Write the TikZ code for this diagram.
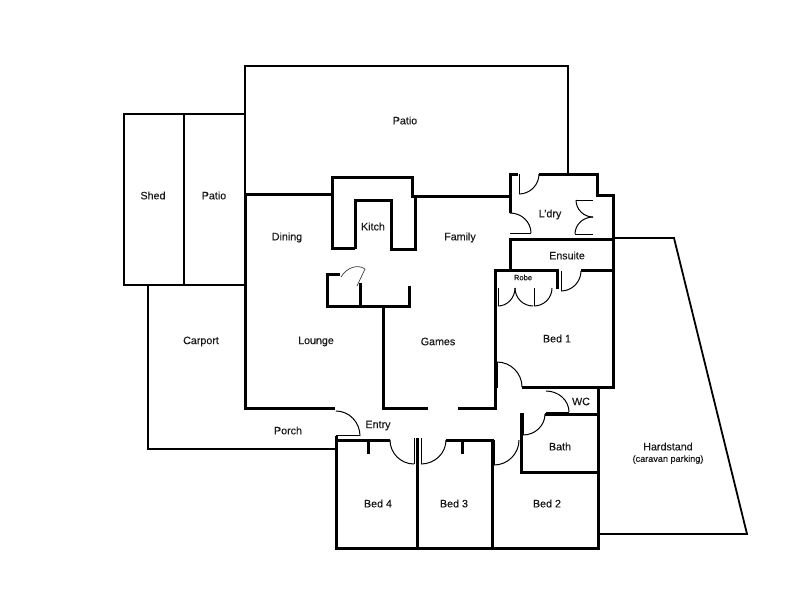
\documentclass[tikz,border=0pt]{standalone}
\usepackage{fontspec}
\setmainfont{Liberation Sans}
\newfontfamily\lblfont[FakeBold=0.3]{Liberation Sans}
\usetikzlibrary{calc}
\tikzset{
  wall/.style={line width=3pt,line cap=butt,line join=miter,black},
  partition/.style={line width=2.5pt,line join=miter,black},
  outline/.style={line width=1.8pt,line join=miter,black},
  door/.style={line width=1pt,black},
  faint/.style={line width=0.7pt,black!75},
  lbl/.style={font=\lblfont\fontsize{10.7}{12}\selectfont,inner sep=0pt,text=black!90,yshift=0.5pt},
  small/.style={font=\lblfont\fontsize{7.6}{9}\selectfont,inner sep=0pt,text=black!90,yshift=0.5pt},
  note/.style={font=\lblfont\fontsize{9.1}{10}\selectfont,inner sep=0pt,text=black!90,yshift=0.5pt}
}
\newcommand{\swing}[4][door]{\draw[#1] (#2) .. controls ($(#2)!0.55!(#3)$) and ($(#4)!0.55!(#3)$) .. (#4);}
\begin{document}
\begin{tikzpicture}[x=1pt,y=-1pt]
\useasboundingbox (0,0) rectangle (800,600);
\fill[white] (0,0) rectangle (800,600);
% outlines
\draw[outline] (245,194) -- (245,66) -- (568,66) -- (568,174);
\draw[outline] (245,114) -- (124,114) -- (124,285) -- (245,285);
\draw[outline] (148,285) -- (148,449) -- (336,449);
\draw[outline] (613,238) -- (674,238) -- (747,534) -- (598,534);
% walls
\draw[partition] (184,114) -- (184,285);
\draw[wall] (332,194) -- (245,194) -- (245,408) -- (335,408);
\draw[wall] (355,248) -- (332,248) -- (332,177) -- (412,177) -- (412,196) -- (510,196);
\draw[wall] (415,196) -- (415,249) -- (391,249) -- (391,200) -- (355,200) -- (355,249);
\draw[wall] (340,274) -- (327,274) -- (327,306) -- (409,306) -- (409,286);
\draw[wall] (360,283) -- (360,306);
\draw[wall] (383,306) -- (383,408) -- (428,408);
\draw[wall] (458,408) -- (495,408) -- (495,270) -- (557,270) -- (557,289);
\draw[wall] (518,174) -- (510,174) -- (510,213);
\draw[wall] (539,174) -- (597,174) -- (597,195) -- (613,195) -- (613,387) -- (522,387);
\draw[wall] (510,271) -- (510,239) -- (613,239);
\draw[wall] (581,270) -- (613,270);
\draw[wall] (598,387) -- (598,548) -- (336,548) -- (336,436);
\draw[wall] (545,414) -- (598,414);
\draw[wall] (521,413) -- (521,472) -- (598,472);
\draw[wall] (336,440) -- (390,440);
\draw[wall] (368,440) -- (368,454);
\draw[wall] (417,438) -- (417,548);
\draw[wall] (446,440) -- (492,440) -- (492,548);
\draw[wall] (462,440) -- (462,454);
% doors
\draw[door] (519,174) -- (519,194); \swing{519,194}{539,194}{539,174}
\swing{510,213}{531,213}{531,233} \draw[door] (510,233) -- (531,233);
\draw[door] (593,200) -- (576,200); \swing{576,200}{576,217}{593,217}
\draw[door] (593,234) -- (575,234); \swing{575,234}{575,217}{593,217}
\draw[door] (561,271) -- (561,291); \swing{561,291}{581,291}{581,271}
\draw[door] (498,288) -- (498,306); \swing{498,306}{515,306}{515,288}
\swing{515,288}{515,306}{533,306}
\draw[door] (534,288) -- (534,306); \swing{534,306}{552,306}{552,288}
\draw[door] (497,362) -- (497,388); \swing{497,362}{522,362}{522,387}
\swing{546,391}{569,391}{569,412} \draw[door] (546,412) -- (569,412);
\draw[door] (523,413) -- (523,435); \swing{523,435}{545,435}{545,414}
\draw[door] (494,440) -- (494,465); \swing{494,465}{519,465}{519,440}
\swing{390,440}{390,464}{414,464} \draw[door] (414,438) -- (414,464);
\swing{446,440}{446,464}{421,464} \draw[door] (421,438) -- (421,464);
\swing{336,411}{360,411}{360,436} \draw[door] (336,435) -- (360,435);
\draw[faint] (341,277) .. controls (347,267) and (358,264) .. (365,269) -- (357,286);
% labels
\node[lbl] (shed) at (153,196) {Shed};
\node[lbl] (patioa) at (214,196) {Patio};
\node[lbl] (patiob) at (405,121) {Patio};
\node[lbl] (dining) at (287,238) {Dining};
\node[lbl] (kitch) at (373,227) {Kitch};
\node[lbl] (family) at (460,238) {Family};
\node[lbl] (ldry) at (550,215) {L’dry};
\node[lbl] (ensuite) at (567,256) {Ensuite};
\node[small] (robe) at (523,278) {Robe};
\node[lbl] (lounge) at (316,342) {Lounge};
\node[lbl] (games) at (438,342) {Games};
\node[lbl] (bed1) at (557,339) {Bed 1};
\node[lbl] (carport) at (201,342) {Carport};
\node[lbl] (porch) at (288,431) {Porch};
\node[lbl] (entry) at (378,426) {Entry};
\node[lbl] (wc) at (581,402) {WC};
\node[lbl] (bath) at (560,447) {Bath};
\node[lbl] (bed4) at (378,504) {Bed 4};
\node[lbl] (bed3) at (454,504) {Bed 3};
\node[lbl] (bed2) at (547,504) {Bed 2};
\node[lbl] (hard) at (668,447) {Hardstand};
\node[note] (caravan) at (668,460) {(caravan parking)};
\end{tikzpicture}
\end{document}
